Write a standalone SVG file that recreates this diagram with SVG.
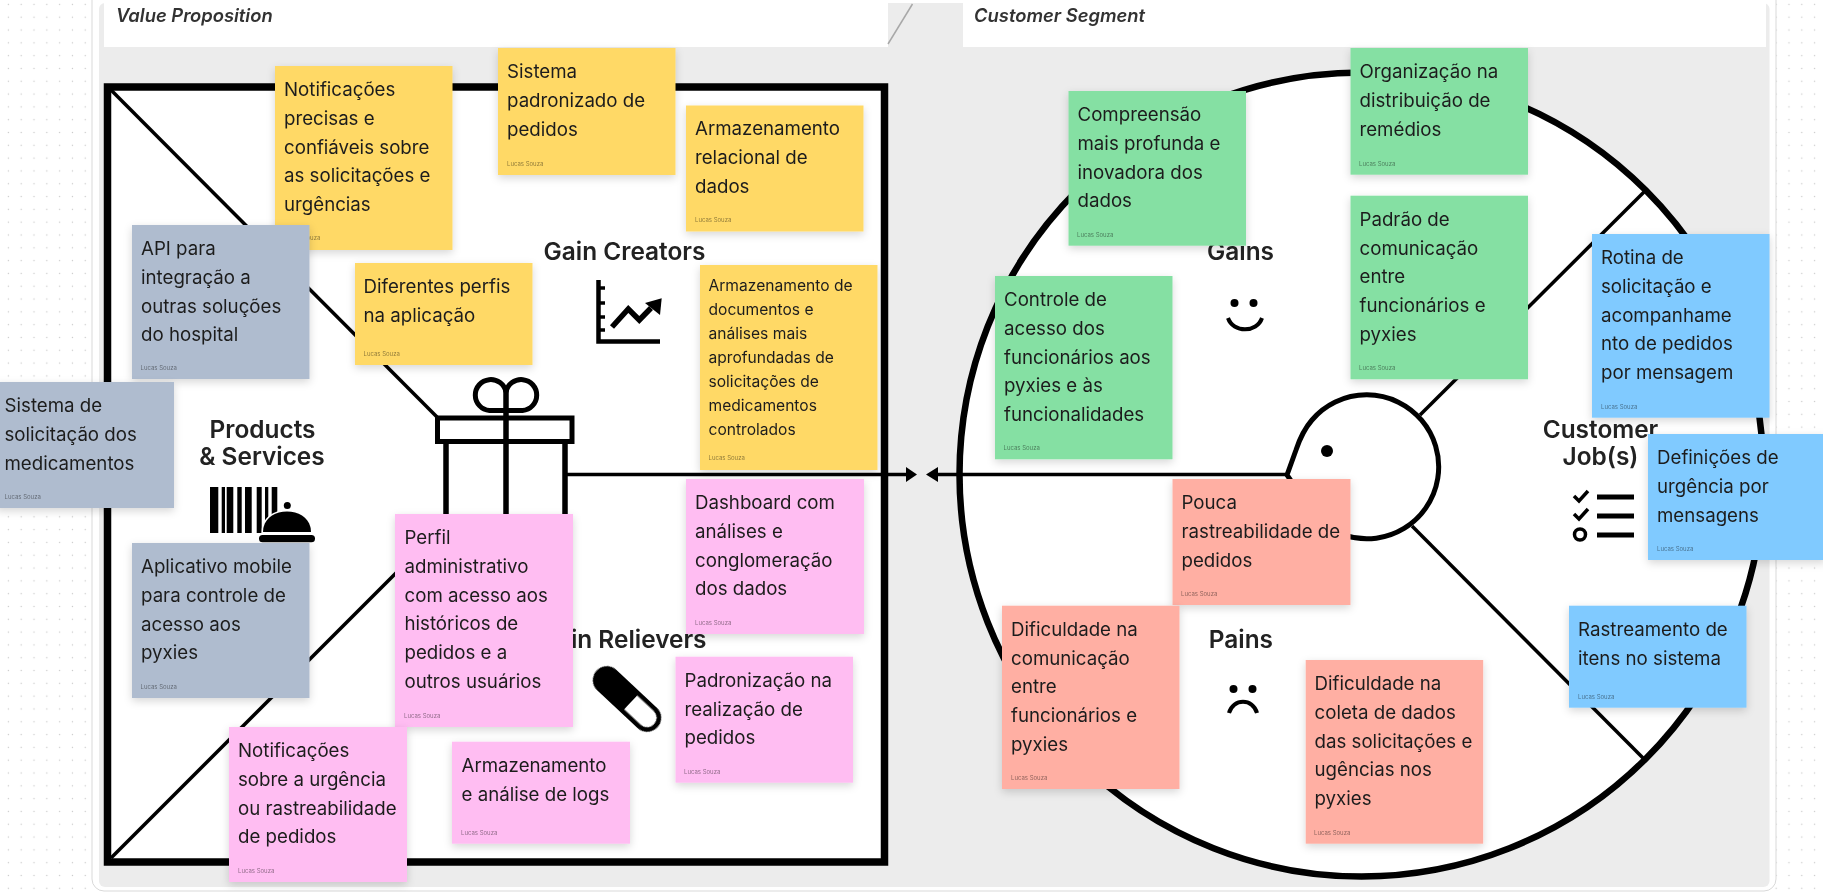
<svg xmlns="http://www.w3.org/2000/svg" width="1823" height="892" viewBox="0 0 1823 892">
<style>
.n{font-family:Inter,"Liberation Sans",sans-serif;font-size:18.7px;fill:#1e1e1e;filter:url(#tiny)}
.s{font-size:15.6px}
.a{font-family:Inter,"Liberation Sans",sans-serif;font-size:6px;fill:#000;fill-opacity:.45;filter:url(#tiny)}
.y{fill:#FFD966}.g{fill:#AFBCCF}.p{fill:#FFBDF2}.v{fill:#85E0A3}.b{fill:#80CAFF}.r{fill:#FFAFA3}
.t{font-family:Inter,"Liberation Sans",sans-serif;font-size:24.4px;font-weight:600;fill:#222;filter:url(#soft)}
.h{font-family:Inter,"Liberation Sans",sans-serif;font-size:18.400px;font-style:italic;font-weight:600;fill:#333;filter:url(#soft)}
.l{fill:none;stroke:#000;stroke-width:3.5}
.i{fill:none;stroke:#000;stroke-width:5}
.note{filter:url(#sh)}
</style>
<defs>
<pattern id="dots" width="12.81" height="12.81" patternUnits="userSpaceOnUse" x="2" y="-2"><circle cx="6.4" cy="6.4" r=".7" fill="#c9c9c9"/></pattern>
<filter id="sh" x="-10%" y="-10%" width="120%" height="125%"><feDropShadow dx="0" dy="3" stdDeviation="4" flood-color="#000" flood-opacity=".16"/></filter>
<filter id="soft" x="-5%" y="-5%" width="110%" height="110%"><feGaussianBlur stdDeviation=".6"/></filter>
<filter id="tiny" x="-5%" y="-5%" width="110%" height="110%"><feGaussianBlur stdDeviation=".3"/></filter>
</defs>
<rect width="1823" height="892" fill="#fff"/>
<rect width="1823" height="892" fill="url(#dots)"/>
<rect x="92" y="-12" width="1684" height="903" rx="12" fill="#fff" stroke="#d9d9d9" stroke-width="1"/>
<rect x="99" y="3" width="1670.500" height="884" rx="6" fill="#ececec"/>
<rect x="104" y="3" width="784" height="44" fill="#fff"/>
<rect x="963" y="3" width="803" height="44" fill="#fff"/>
<path d="M912.500 4L888 44" stroke="#a8a8a8" stroke-width="1.500" fill="none"/>
<text class="h" x="116" y="21.500">Value Proposition</text>
<text class="h" x="974" y="21.500">Customer Segment</text>

<g id="canvas" filter="url(#soft)">
<rect x="107.500" y="87" width="777" height="775" fill="#fff" stroke="#000" stroke-width="7.500"/>
<circle cx="1361.500" cy="474.500" r="402" fill="#fff" stroke="#000" stroke-width="6.500"/>
</g>

<g id="connectors" filter="url(#soft)">
<path class="l" d="M111 90L437 417"/>
<path class="l" d="M111 858L450 519"/>
<path class="l" d="M1420 415L1644 192"/>
<path class="l" d="M1412 526L1644 759"/>
<path d="M566 474.500H908" stroke="#000" stroke-width="3.500" fill="none"/>
<path d="M906 467L917 474.500L906 482Z" fill="#000"/>
<path d="M1287 474.500H936" stroke="#000" stroke-width="3.500" fill="none"/>
<path d="M938 467L926 474.500L938 482Z" fill="#000"/>
</g>

<g id="icons" filter="url(#soft)">
<g id="head">
<path class="i" d="M1287 475L1296 450C1300 438 1305 428 1312 420A72 72 0 1 1 1300 494Z" style="fill:#fff"/>
<circle cx="1327" cy="451" r="6" fill="#000"/>
</g>
<g id="gift">
<path class="i" d="M489.500 410.500A15.500 15.500 0 1 1 506 392A15.500 15.500 0 1 1 522.500 410.500Z"/>
<rect class="i" x="437.500" y="418" width="134.500" height="23.500"/>
<path d="M446 441V520M506 390V520M565 441V520" fill="none" stroke="#000" stroke-width="5.500"/>
</g>
<g id="barcode-bell">
<path d="M210 487h8.300v46h-8.300zM221.700 487h3.300v46h-3.300zM226.700 487h6.600v46h-6.600zM237.300 487h4.400v46h-4.400zM245 487h6.700v46h-6.700zM256.700 487h5v46h-5zM265 487h3.300v46h-3.300zM271.700 487h5.600v46h-5.600z" fill="#000"/>
<path d="M263 532C263 519 274 511.500 287 511.500C300 511.500 311 519 311 532Z" fill="#000" stroke="#fff" stroke-width="3" paint-order="stroke"/>
<circle cx="287.300" cy="505.500" r="3.500" fill="#000"/>
<rect x="259" y="535" width="56" height="7.300" rx="3.600" fill="#000"/>
</g>
<g id="chart">
<path d="M598.500 280V341.500H660" fill="none" stroke="#000" stroke-width="4.500"/>
<path d="M599 288h6M599 303h6M599 317h6M599 330h6" stroke="#000" stroke-width="3.500" fill="none"/>
<path d="M612 327L628.300 309L639.300 320L651 308" fill="none" stroke="#000" stroke-width="5.500"/>
<path d="M661.700 298.300L645 303L660 315Z" fill="#000"/>
</g>
<g id="pill" transform="rotate(43 627 699)">
<rect x="585.500" y="685" width="83" height="28" rx="14" fill="#000"/>
<path d="M632 689.500H654.500A9.500 9.500 0 0 1 654.500 708.500H632Z" fill="#fff"/>
</g>
<g id="smile">
<circle cx="1234.500" cy="303" r="4" fill="#000"/><circle cx="1253.500" cy="303" r="4" fill="#000"/>
<path d="M1228 318C1233 333 1257 333 1262 318" fill="none" stroke="#000" stroke-width="4"/>
</g>
<g id="frown">
<circle cx="1233.500" cy="689" r="4" fill="#000"/><circle cx="1252.500" cy="689" r="4" fill="#000"/>
<path d="M1229 713C1233 698 1253 698 1257 713" fill="none" stroke="#000" stroke-width="4"/>
</g>
<g id="jobs">
<path d="M1574 496L1579 501L1588 491M1574 514L1579 519L1588 509" fill="none" stroke="#000" stroke-width="3.500"/>
<circle cx="1580" cy="534.500" r="5.500" fill="none" stroke="#000" stroke-width="3.500"/>
<path d="M1597 497H1634M1597 516H1634M1597 535H1634" fill="none" stroke="#000" stroke-width="5"/>
</g>
</g>

<g id="labels">
<text class="t" x="624.500" y="260" text-anchor="middle">Gain Creators</text>
<text class="t" x="262.500" y="438" text-anchor="middle">Products</text>
<text class="t" x="262" y="465" text-anchor="middle">&amp; Services</text>
<text class="t" x="706.500" y="648" text-anchor="end">Pain Relievers</text>
<text class="t" x="1274" y="260" text-anchor="end">Gains</text>
<text class="t" x="1273" y="648" text-anchor="end">Pains</text>
<text class="t" x="1600.500" y="438" text-anchor="middle">Customer</text>
<text class="t" x="1600.500" y="465" text-anchor="middle">Job(s)</text>
</g>

<g id="note-notificacoes" class="note"><rect class="y" x="275" y="66" width="177.500" height="184"/><text class="n" x="284" y="96"><tspan x="284">Notificações</tspan><tspan x="284" dy="28.800">precisas e</tspan><tspan x="284" dy="28.800">confiáveis sobre</tspan><tspan x="284" dy="28.800">as solicitações e</tspan><tspan x="284" dy="28.800">urgências</tspan></text><text class="a" x="284" y="240">Lucas Souza</text></g>
<g id="note-sistema-padronizado" class="note"><rect class="y" x="498" y="48" width="177.500" height="127"/><text class="n"><tspan x="507" y="78">Sistema</tspan><tspan x="507" dy="28.800">padronizado de</tspan><tspan x="507" dy="28.800">pedidos</tspan></text><text class="a" x="507" y="165.500">Lucas Souza</text></g>
<g id="note-armazenamento-relacional" class="note"><rect class="y" x="686" y="105.500" width="177.500" height="126"/><text class="n"><tspan x="695" y="135">Armazenamento</tspan><tspan x="695" dy="28.800">relacional de</tspan><tspan x="695" dy="28.800">dados</tspan></text><text class="a" x="695" y="222">Lucas Souza</text></g>
<g id="note-armazenamento-documentos" class="note"><rect class="y" x="700" y="265" width="177.500" height="205"/><text class="n s"><tspan x="708.500" y="291">Armazenamento de</tspan><tspan x="708.500" dy="24">documentos e</tspan><tspan x="708.500" dy="24">análises mais</tspan><tspan x="708.500" dy="24">aprofundadas de</tspan><tspan x="708.500" dy="24">solicitações de</tspan><tspan x="708.500" dy="24">medicamentos</tspan><tspan x="708.500" dy="24">controlados</tspan></text><text class="a" x="708.500" y="460">Lucas Souza</text></g>
<g id="note-api" class="note"><rect class="g" x="132" y="225" width="177.500" height="154"/><text class="n"><tspan x="141" y="255">API para</tspan><tspan x="141" dy="28.800">integração a</tspan><tspan x="141" dy="28.800">outras soluções</tspan><tspan x="141" dy="28.800">do hospital</tspan></text><text class="a" x="140.500" y="370">Lucas Souza</text></g>
<g id="note-diferentes-perfis" class="note"><rect class="y" x="355" y="263" width="177.500" height="102"/><text class="n"><tspan x="363.500" y="293">Diferentes perfis</tspan><tspan x="363.500" dy="28.800">na aplicação</tspan></text><text class="a" x="363.500" y="356">Lucas Souza</text></g>
<g id="note-sistema-solicitacao" class="note"><rect class="g" x="-4" y="382" width="178" height="126"/><text class="n"><tspan x="4.500" y="412">Sistema de</tspan><tspan x="4.500" dy="28.800">solicitação dos</tspan><tspan x="4.500" dy="28.800">medicamentos</tspan></text><text class="a" x="4.500" y="499">Lucas Souza</text></g>
<g id="note-aplicativo" class="note"><rect class="g" x="132" y="543" width="177.500" height="155"/><text class="n"><tspan x="141" y="573">Aplicativo mobile</tspan><tspan x="141" dy="28.800">para controle de</tspan><tspan x="141" dy="28.800">acesso aos</tspan><tspan x="141" dy="28.800">pyxies</tspan></text><text class="a" x="140.500" y="689">Lucas Souza</text></g>
<g id="note-perfil" class="note"><rect class="p" x="395" y="514" width="178" height="213"/><text class="n"><tspan x="404.500" y="544">Perfil</tspan><tspan x="404.500" dy="28.800">administrativo</tspan><tspan x="404.500" dy="28.800">com acesso aos</tspan><tspan x="404.500" dy="28.800">históricos de</tspan><tspan x="404.500" dy="28.800">pedidos e a</tspan><tspan x="404.500" dy="28.800">outros usuários</tspan></text><text class="a" x="404" y="718">Lucas Souza</text></g>
<g id="note-notificacoes-urgencia" class="note"><rect class="p" x="229" y="727" width="178" height="155"/><text class="n"><tspan x="238" y="757">Notificações</tspan><tspan x="238" dy="28.800">sobre a urgência</tspan><tspan x="238" dy="28.800">ou rastreabilidade</tspan><tspan x="238" dy="28.800">de pedidos</tspan></text><text class="a" x="238" y="873">Lucas Souza</text></g>
<g id="note-armazenamento-logs" class="note"><rect class="p" x="452" y="741.700" width="178" height="102"/><text class="n"><tspan x="461.500" y="771.700">Armazenamento</tspan><tspan x="461.500" dy="28.800">e análise de logs</tspan></text><text class="a" x="461" y="834.500">Lucas Souza</text></g>
<g id="note-dashboard" class="note"><rect class="p" x="686" y="479" width="178" height="155"/><text class="n"><tspan x="695" y="509">Dashboard com</tspan><tspan x="695" dy="28.800">análises e</tspan><tspan x="695" dy="28.800">conglomeração</tspan><tspan x="695" dy="28.800">dos dados</tspan></text><text class="a" x="695" y="625">Lucas Souza</text></g>
<g id="note-padronizacao" class="note"><rect class="p" x="675.500" y="656.700" width="177.500" height="126"/><text class="n"><tspan x="684.500" y="686.700">Padronização na</tspan><tspan x="684.500" dy="28.800">realização de</tspan><tspan x="684.500" dy="28.800">pedidos</tspan></text><text class="a" x="684" y="773.500">Lucas Souza</text></g>
<g id="note-compreensao" class="note"><rect class="v" x="1068.500" y="91" width="177.500" height="154.700"/><text class="n"><tspan x="1077.500" y="121">Compreensão</tspan><tspan x="1077.500" dy="28.800">mais profunda e</tspan><tspan x="1077.500" dy="28.800">inovadora dos</tspan><tspan x="1077.500" dy="28.800">dados</tspan></text><text class="a" x="1077" y="236.500">Lucas Souza</text></g>
<g id="note-organizacao" class="note"><rect class="v" x="1350.500" y="48" width="177.500" height="126.700"/><text class="n"><tspan x="1359.500" y="78">Organização na</tspan><tspan x="1359.500" dy="28.800">distribuição de</tspan><tspan x="1359.500" dy="28.800">remédios</tspan></text><text class="a" x="1359" y="165.500">Lucas Souza</text></g>
<g id="note-padrao" class="note"><rect class="v" x="1350.500" y="195.700" width="177.500" height="183.600"/><text class="n"><tspan x="1359.500" y="225.700">Padrão de</tspan><tspan x="1359.500" dy="28.800">comunicação</tspan><tspan x="1359.500" dy="28.800">entre</tspan><tspan x="1359.500" dy="28.800">funcionários e</tspan><tspan x="1359.500" dy="28.800">pyxies</tspan></text><text class="a" x="1359" y="370">Lucas Souza</text></g>
<g id="note-controle" class="note"><rect class="v" x="995" y="276" width="177.500" height="183.300"/><text class="n"><tspan x="1004" y="306">Controle de</tspan><tspan x="1004" dy="28.800">acesso dos</tspan><tspan x="1004" dy="28.800">funcionários aos</tspan><tspan x="1004" dy="28.800">pyxies e às</tspan><tspan x="1004" dy="28.800">funcionalidades</tspan></text><text class="a" x="1003.500" y="450">Lucas Souza</text></g>
<g id="note-rotina" class="note"><rect class="b" x="1592" y="234" width="177.500" height="183.700"/><text class="n"><tspan x="1601" y="264">Rotina de</tspan><tspan x="1601" dy="28.800">solicitação e</tspan><tspan x="1601" dy="28.800">acompanhame</tspan><tspan x="1601" dy="28.800">nto de pedidos</tspan><tspan x="1601" dy="28.800">por mensagem</tspan></text><text class="a" x="1601" y="408.500">Lucas Souza</text></g>
<g id="note-definicoes" class="note"><rect class="b" x="1648" y="434" width="178" height="126"/><text class="n"><tspan x="1657" y="464">Definições de</tspan><tspan x="1657" dy="28.800">urgência por</tspan><tspan x="1657" dy="28.800">mensagens</tspan></text><text class="a" x="1657" y="551">Lucas Souza</text></g>
<g id="note-rastreamento" class="note"><rect class="b" x="1569" y="605.700" width="177.500" height="102"/><text class="n"><tspan x="1578" y="635.700">Rastreamento de</tspan><tspan x="1578" dy="28.800">itens no sistema</tspan></text><text class="a" x="1578" y="698.500">Lucas Souza</text></g>
<g id="note-pouca" class="note"><rect class="r" x="1172.500" y="479" width="178" height="126"/><text class="n"><tspan x="1181.500" y="509">Pouca</tspan><tspan x="1181.500" dy="28.800">rastreabilidade de</tspan><tspan x="1181.500" dy="28.800">pedidos</tspan></text><text class="a" x="1181" y="596">Lucas Souza</text></g>
<g id="note-dificuldade-comunicacao" class="note"><rect class="r" x="1002" y="605.700" width="177.500" height="183.300"/><text class="n"><tspan x="1011" y="635.700">Dificuldade na</tspan><tspan x="1011" dy="28.800">comunicação</tspan><tspan x="1011" dy="28.800">entre</tspan><tspan x="1011" dy="28.800">funcionários e</tspan><tspan x="1011" dy="28.800">pyxies</tspan></text><text class="a" x="1011" y="780">Lucas Souza</text></g>
<g id="note-dificuldade-coleta" class="note"><rect class="r" x="1305.700" y="660" width="177.500" height="183.700"/><text class="n"><tspan x="1314.500" y="690">Dificuldade na</tspan><tspan x="1314.500" dy="28.800">coleta de dados</tspan><tspan x="1314.500" dy="28.800">das solicitações e</tspan><tspan x="1314.500" dy="28.800">ugências nos</tspan><tspan x="1314.500" dy="28.800">pyxies</tspan></text><text class="a" x="1314" y="834.500">Lucas Souza</text></g>
</svg>
